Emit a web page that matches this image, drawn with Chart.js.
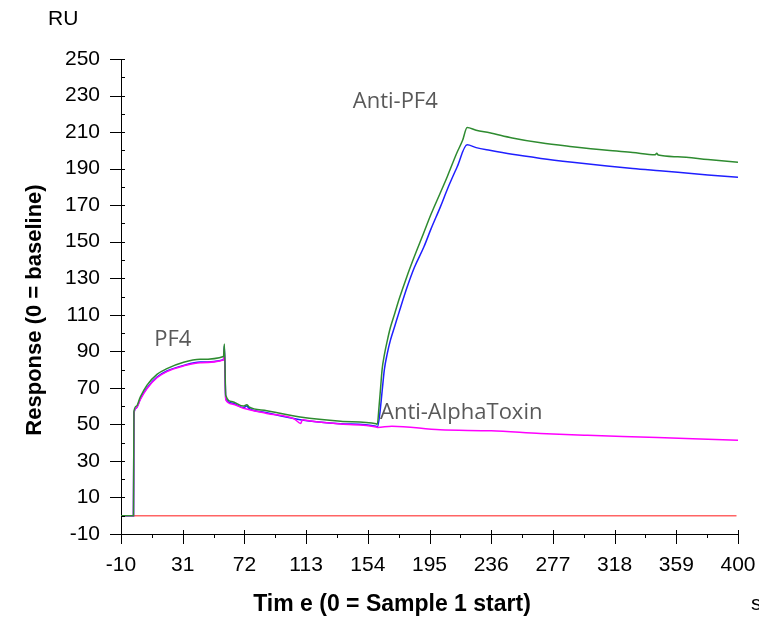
<!DOCTYPE html>
<html>
<head>
<meta charset="utf-8">
<script src="https://cdn.jsdelivr.net/npm/chart.js@4/dist/chart.umd.min.js"></script>
<style>
  body { margin: 0; background: #fff; }
  canvas { display: block; }
</style>
</head>
<body>
<canvas id="chart-area" width="759" height="617"></canvas>
<script>
// tick labels
var xTicks = [-10, 31, 72, 113, 154, 195, 236, 277, 318, 359, 400];
var yTicks = [-10, 10, 30, 50, 70, 90, 110, 130, 150, 170, 190, 210, 230, 250];

// green curve (Anti-PF4 on top)
var greenT = [-10, -1.7, -1.4, 0.2, 2.8, 7.3, 13.9, 20.5, 31.6, 42.6, 58.1, 58.7, 59.6, 63.7, 71.4, 73.6, 75, 86.9, 109, 136, 159.5, 160.3,
  161.5, 162.5, 163.5, 165, 167, 169, 172, 175, 180, 185, 191, 196, 202, 207, 213, 217, 220,
  226, 235, 250, 269, 290, 313, 330, 345, 346, 347, 360, 380, 400];
var greenY = [0, 0, 57, 60, 65, 71.5, 77.4, 80.5, 84, 85.6, 87.2, 94, 66, 62.5, 60, 60.8, 59.6, 57.5, 54, 51.7, 50.3, 50,
  60, 70, 80, 88, 96, 103, 111, 119, 131, 142, 154.5, 165, 176.4, 186, 198.3, 205.5, 212.5,
  211, 209.6, 206.8, 204.1, 202, 200, 198.8, 197.6, 198.4, 197.4, 196.5, 195, 193.5];

// blue curve
var blueT = [-10, -1.7, -1.4, 0.2, 2.8, 7.3, 13.9, 20.5, 31.6, 42.6, 58.1, 58.7, 59.6, 63.7, 71.4, 73.6, 75, 86.9, 109, 136, 159.5, 160.4,
  162, 163.5, 165, 167, 169, 172, 175, 180.2, 185, 191.3, 196, 202.3, 207, 213.4, 220,
  226, 235, 250, 269, 290, 313, 330, 348, 360, 380, 400];
var blueY = [0, 0, 56, 59, 64, 70, 75.9, 79.2, 82.3, 84.1, 85.4, 93, 64, 61.7, 59.2, 60, 58.8, 56.4, 52.6, 50.4, 49, 48.6,
  56, 68, 80, 89, 96, 104, 112, 125.3, 136, 147.2, 157, 169.2, 179, 191, 203,
  201.5, 200, 197.8, 195.6, 193.5, 191.4, 190, 188.8, 188, 186.5, 185.3];

// magenta curve (Anti-AlphaToxin)
var magentaT = [-10, -1.7, -1.4, 0.2, 2.8, 7.3, 13.9, 20.5, 31.6, 42.6, 58.1, 58.7, 59.6, 63.7, 71.4, 86.9, 105, 109.5, 110.5, 111.5, 136, 159.5, 160.4,
  170, 202, 236, 268.7, 300, 335, 370, 400];
var magentaY = [0, 0, 56, 59, 63.5, 69.6, 75.5, 78.9, 82, 83.8, 85.2, 91, 63.5, 61.2, 58.8, 56, 53, 50.5, 52.6, 52.4, 50.2, 48.6, 48.3,
  49, 47, 46.5, 45, 44, 43.1, 42.2, 41.3];

// red reference line
var redT = [-1.4, 399];
var redY = [0, 0];

// annotations, anchored in data units
var noteText = ['PF4', 'Anti-PF4', 'Anti-AlphaToxin'];
var noteT = [12.1, 144, 162.1];
var noteY = [93, 223, 52.9];

function pts(t, y) {
  return t.map(function (v, i) { return { x: v, y: y[i] }; });
}

var extras = {
  id: 'extras',
  afterDraw: function (chart) {
    var ctx = chart.ctx;
    var xs = chart.scales.x, ys = chart.scales.y;
    var xAxisY = ys.getPixelForValue(-10);
    var yAxisX = xs.getPixelForValue(-10);
    ctx.save();
    ctx.strokeStyle = '#000';
    ctx.lineWidth = 1;
    ctx.beginPath();
    // y ticks: major cross the axis, minor on the inside
    yTicks.forEach(function (v, i) {
      var p = Math.round(ys.getPixelForValue(v)) + 0.5;
      ctx.moveTo(yAxisX - 11, p); ctx.lineTo(yAxisX + 4, p);
      if (i < yTicks.length - 1) {
        var m = Math.round(ys.getPixelForValue(v + 10)) + 0.5;
        ctx.moveTo(yAxisX, m); ctx.lineTo(yAxisX + 4, m);
      }
    });
    // x ticks
    xTicks.forEach(function (v, i) {
      var p = Math.round(xs.getPixelForValue(v)) + 0.5;
      ctx.moveTo(p, xAxisY - 4); ctx.lineTo(p, xAxisY + 10);
      if (i < xTicks.length - 1) {
        var m = Math.round(xs.getPixelForValue(v + 20.5)) + 0.5;
        ctx.moveTo(m, xAxisY); ctx.lineTo(m, xAxisY + 4);
      }
    });
    ctx.stroke();

    // annotations
    ctx.fillStyle = '#595959';
    ctx.font = '22px "Open Sans"';
    ctx.textAlign = 'left';
    ctx.textBaseline = 'alphabetic';
    noteText.forEach(function (txt, i) {
      ctx.fillText(txt, xs.getPixelForValue(noteT[i]), ys.getPixelForValue(noteY[i]));
    });

    // axis titles
    ctx.fillStyle = '#000';
    ctx.font = '21px "Liberation Sans"';
    ctx.fillText('RU', 48, 25);
    ctx.fillText('s', 751, 610);
    ctx.font = 'bold 23px "Liberation Sans"';
    ctx.textAlign = 'center';
    ctx.fillText('Tim e (0 = Sample 1 start)', 392, 611);
    ctx.font = 'bold 22px "Liberation Sans"';
    ctx.translate(41, 310);
    ctx.rotate(-Math.PI / 2);
    ctx.fillText('Response (0 = baseline)', 0, 0);
    ctx.restore();
  }
};

var tickFont = { family: '"Liberation Sans", Arial', size: 21 };

var config = {
  type: 'line',
  data: {
    datasets: [
      { data: pts(greenT, greenY), borderColor: '#2e8b30' },
      { data: pts(magentaT, magentaY), borderColor: '#ff00ff' },
      { data: pts(blueT, blueY), borderColor: '#1f1fff' },
      { data: pts(redT, redY), borderColor: '#ff6464' }
    ]
  },
  options: {
    responsive: false,
    animation: false,
    layout: { padding: { top: 59, right: 21, left: 0, bottom: 0 } },
    elements: {
      point: { radius: 0 },
      line: { borderWidth: 1.5, cubicInterpolationMode: 'monotone' }
    },
    plugins: { legend: { display: false }, tooltip: { enabled: false } },
    scales: {
      x: {
        type: 'linear', min: -10, max: 400,
        afterBuildTicks: function (s) { s.ticks = xTicks.map(function (v) { return { value: v }; }); },
        afterFit: function (s) { s.height = 83; s.paddingLeft = 0; s.paddingRight = 0; },
        ticks: { font: tickFont, color: '#000', padding: 19, maxRotation: 0, autoSkip: false },
        grid: { display: false, drawTicks: false },
        border: { display: true, color: '#000', width: 1 }
      },
      y: {
        type: 'linear', min: -10, max: 250,
        afterBuildTicks: function (s) { s.ticks = yTicks.map(function (v) { return { value: v }; }); },
        afterFit: function (s) { s.width = 121; s.paddingTop = 0; s.paddingBottom = 0; },
        ticks: { font: tickFont, color: '#000', padding: 21, autoSkip: false },
        grid: { display: false, drawTicks: false },
        border: { display: true, color: '#000', width: 1 }
      }
    }
  },
  plugins: [extras]
};

var context = document.getElementById('chart-area').getContext('2d');
window.myChart = new Chart(context, config);
</script>
</body>
</html>
